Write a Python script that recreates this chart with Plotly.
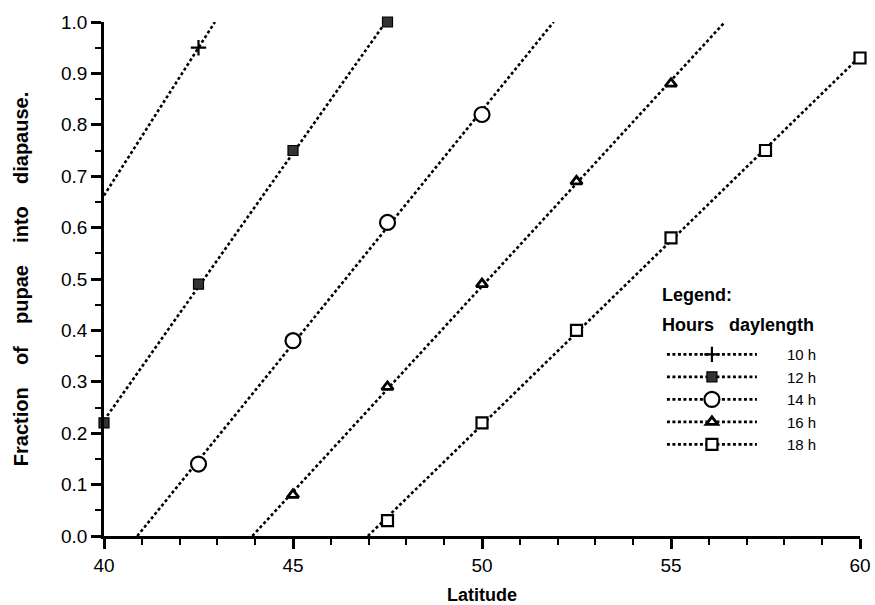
import numpy as np
import plotly.graph_objects as go

# ---- data ----
series_names = ["10 h", "12 h", "14 h", "16 h", "18 h"]
lat_10 = [42.5]
frac_10 = [0.95]
lat_12 = [40, 42.5, 45, 47.5]
frac_12 = [0.22, 0.49, 0.75, 1.00]
lat_14 = [42.5, 45, 47.5, 50]
frac_14 = [0.14, 0.38, 0.61, 0.82]
lat_16 = [45, 47.5, 50, 52.5, 55]
frac_16 = [0.08, 0.29, 0.49, 0.69, 0.88]
lat_18 = [47.5, 50, 52.5, 55, 57.5, 60]
frac_18 = [0.03, 0.22, 0.40, 0.58, 0.75, 0.93]
slope_10 = 0.115  # fitted-line slope (single point series)

xs = [lat_10, lat_12, lat_14, lat_16, lat_18]
ys = [frac_10, frac_12, frac_14, frac_16, frac_18]

XMIN, XMAX = 40, 60
YMIN, YMAX = 0.0, 1.0

marker_styles = [
    dict(symbol="cross-thin", size=11, color="black", line=dict(color="black", width=2.2)),
    dict(symbol="square", size=10, color="#333333", line=dict(color="black", width=1.2)),
    dict(symbol="circle", size=15, color="white", line=dict(color="black", width=2.2)),
    dict(symbol="triangle-up", size=10, color="white", line=dict(color="black", width=2.8)),
    dict(symbol="square", size=11, color="white", line=dict(color="black", width=2.2)),
]

line_style = dict(color="black", width=2.6, dash="3px,2.5px")

fig = go.Figure()

PAD = "\u00a0" * 6
for name, x, y, ms in zip(series_names, xs, ys, marker_styles):
    x = np.asarray(x, float)
    y = np.asarray(y, float)
    if len(x) >= 2:
        m, b = np.polyfit(x, y, 1)
    else:
        m = slope_10
        b = y[0] - m * x[0]
    x_start = max(XMIN, (YMIN - b) / m)
    x_end = min(XMAX, (YMAX - b) / m)
    lx = [x_start, x_end]
    ly = [m * v + b for v in lx]
    fig.add_trace(go.Scatter(x=lx, y=ly, mode="lines", line=line_style,
                             showlegend=False, hoverinfo="skip", cliponaxis=False))
    fig.add_trace(go.Scatter(x=x, y=y, mode="markers", marker=ms,
                             showlegend=False, cliponaxis=False))
    # legend entry
    fig.add_trace(go.Scatter(x=[None], y=[None], mode="lines+markers", name=PAD + name,
                             line=line_style, marker=ms))

FONT = "Liberation Sans, Arial, sans-serif"
SP = "\u00a0" * 4

fig.update_layout(
    width=875, height=605,
    margin=dict(l=104, r=15, t=22, b=69, autoexpand=False),
    paper_bgcolor="white", plot_bgcolor="white",
    font=dict(family=FONT, color="black", size=18),
    xaxis=dict(
        range=[XMIN, XMAX], tickmode="linear", tick0=40, dtick=5, automargin=False,
        ticklabeloverflow="allow",
        showgrid=False, zeroline=False, showline=True, linecolor="black", linewidth=2.5,
        ticks="outside", ticklen=10, tickwidth=2.5, tickcolor="black",
        minor=dict(dtick=1, ticks="outside", ticklen=6, tickwidth=2, tickcolor="black"),
        tickfont=dict(size=19, family=FONT),
        title=dict(text="<b>Latitude</b>", font=dict(size=18, family=FONT), standoff=17),
    ),
    yaxis=dict(
        range=[YMIN, YMAX], tickmode="linear", tick0=0, dtick=0.1, tickformat=".1f",
        automargin=False,
        showgrid=False, zeroline=False, showline=True, linecolor="black", linewidth=2.5,
        ticks="outside", ticklen=10, tickwidth=2.5, tickcolor="black",
        minor=dict(dtick=0.05, ticks="outside", ticklen=6, tickwidth=2, tickcolor="black"),
        tickfont=dict(size=19, family=FONT),
        title=dict(text="<b>Fraction" + SP + "of" + SP + "pupae" + SP + "into" + SP + "diapause.</b>",
                   font=dict(size=20, family=FONT), standoff=28),
    ),
    legend=dict(
        x=0.738, y=0.385, xanchor="left", yanchor="top",
        bgcolor="rgba(0,0,0,0)", borderwidth=0,
        font=dict(size=15, family=FONT),
        itemwidth=90,
    ),
    annotations=[
        dict(text="<b>Legend:</b>", xref="paper", yref="paper", x=0.735, y=0.469,
             xanchor="left", yanchor="middle", showarrow=False, font=dict(size=18, family=FONT)),
        dict(text="<b>Hours\u00a0\u00a0\u00a0daylength</b>", xref="paper", yref="paper",
             x=0.735, y=0.4105, xanchor="left", yanchor="middle", showarrow=False,
             font=dict(size=18, family=FONT)),
    ],
)

# remove the default 8px page margin so the 875x605 figure fills the window exactly
fig.write_html(
    "out.html",
    config={"displayModeBar": False},
    post_script="document.body.style.margin='0';document.body.style.overflow='hidden';",
)
